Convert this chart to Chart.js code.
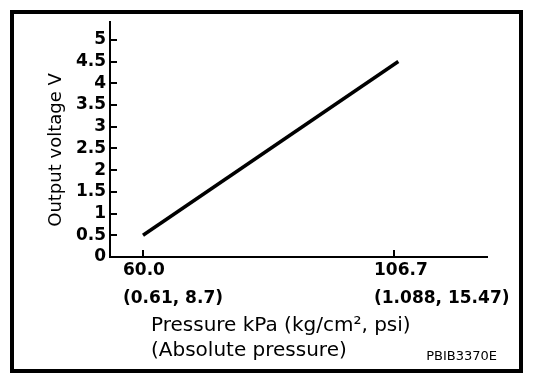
<!DOCTYPE html>
<html>
<head>
<meta charset="utf-8">
<script src="https://cdn.jsdelivr.net/npm/chart.js@4/dist/chart.umd.min.js"></script>
<style>
  html, body { margin: 0; padding: 0; background: #fff; }
  #wrap { width: 560px; height: 382px; position: relative; }
</style>
</head>
<body>
<div id="wrap"><canvas id="c" width="560" height="382"></canvas></div>
<script>
// ---- data ----
const pressureKPa = [60.0, 107.5];
const outputVoltage = [0.5, 4.5];
const xTickValues = [60.0, 106.7];
const xTickLabels = ["60.0", "106.7"];
const xTickSubLabels = ["(0.61, 8.7)", "(1.088, 15.47)"];
const yTickValues = [0, 0.5, 1, 1.5, 2, 2.5, 3, 3.5, 4, 4.5, 5];
const yTickLabels = ["0", "0.5", "1", "1.5", "2", "2.5", "3", "3.5", "4", "4.5", "5"];
const yTitle = "Output voltage V";
const xTitleLines = ["Pressure kPa (kg/cm\u00B2, psi)", "(Absolute pressure)"];
const footnote = "PBIB3370E";

Chart.defaults.font.family = "'DejaVu Sans', sans-serif";
Chart.defaults.color = "#000";

const decor = {
  id: 'decor',
  beforeDraw(chart) {
    const ctx = chart.ctx;
    ctx.save();
    ctx.fillStyle = '#fff';
    ctx.fillRect(0, 0, chart.width, chart.height);
    ctx.restore();
  },
  afterDraw(chart) {
    const ctx = chart.ctx;
    const xs = chart.scales.x, ys = chart.scales.y;
    const area = chart.chartArea;
    ctx.save();
    // frame
    ctx.strokeStyle = '#000';
    ctx.lineWidth = 4;
    ctx.strokeRect(12, 12, 509, 359);
    // inward tick marks
    ctx.lineWidth = 2;
    ctx.beginPath();
    ys.ticks.forEach(t => {
      const p = Math.round(ys.getPixelForValue(t.value));
      ctx.moveTo(area.left, p); ctx.lineTo(area.left + 7, p);
    });
    xs.ticks.forEach(t => {
      const p = Math.round(xs.getPixelForValue(t.value));
      ctx.moveTo(p, area.bottom); ctx.lineTo(p, area.bottom - 7);
    });
    ctx.stroke();
    // y title
    ctx.fillStyle = '#000';
    ctx.font = "18px 'DejaVu Sans'";
    ctx.textAlign = 'center';
    ctx.textBaseline = 'middle';
    ctx.translate(56, 150);
    ctx.rotate(-Math.PI / 2);
    ctx.fillText(yTitle, 0, 0);
    ctx.setTransform(1, 0, 0, 1, 0, 0);
    // x title
    ctx.font = "20px 'DejaVu Sans'";
    ctx.textAlign = 'left';
    ctx.fillText(xTitleLines[0], 151, 326);
    ctx.fillText(xTitleLines[1], 151, 351);
    // footnote
    ctx.font = "13px 'DejaVu Sans'";
    ctx.textAlign = 'right';
    ctx.fillText(footnote, 497, 357);
    ctx.restore();
  }
};

new Chart(document.getElementById('c'), {
  type: 'line',
  data: {
    datasets: [{
      data: pressureKPa.map((x, i) => ({ x: x, y: outputVoltage[i] })),
      borderColor: '#000',
      borderWidth: 3.5,
      pointRadius: 0,
      fill: false,
      tension: 0
    }]
  },
  options: {
    responsive: false,
    animation: false,
    events: [],
    layout: { padding: { top: 22, right: 73, left: 0, bottom: 0 } },
    plugins: { legend: { display: false }, tooltip: { enabled: false } },
    scales: {
      x: {
        type: 'linear',
        min: 53.86,
        max: 124,
        afterFit(s) { s.height = 125; },
        afterBuildTicks(s) { s.ticks = xTickValues.map(v => ({ value: v })); },
        grid: { display: false, drawTicks: false },
        border: { display: true, color: '#000', width: 2 },
        ticks: {
          autoSkip: false, maxRotation: 0, minRotation: 0,
          align: 'start', labelOffset: -20, padding: 0,
          font: { size: 17, weight: 'bold', lineHeight: 28 / 17 },
          callback: (v, i) => [xTickLabels[i], xTickSubLabels[i]]
        }
      },
      y: {
        type: 'linear',
        min: 0,
        max: 5.41,
        afterFit(s) { s.width = 110; },
        afterBuildTicks(s) { s.ticks = yTickValues.map(v => ({ value: v })); },
        grid: { display: false, drawTicks: false },
        border: { display: true, color: '#000', width: 2 },
        ticks: {
          autoSkip: false, padding: 4,
          font: { size: 17, weight: 'bold' },
          callback: (v, i) => yTickLabels[i]
        }
      }
    }
  },
  plugins: [decor]
});
</script>
</body>
</html>
